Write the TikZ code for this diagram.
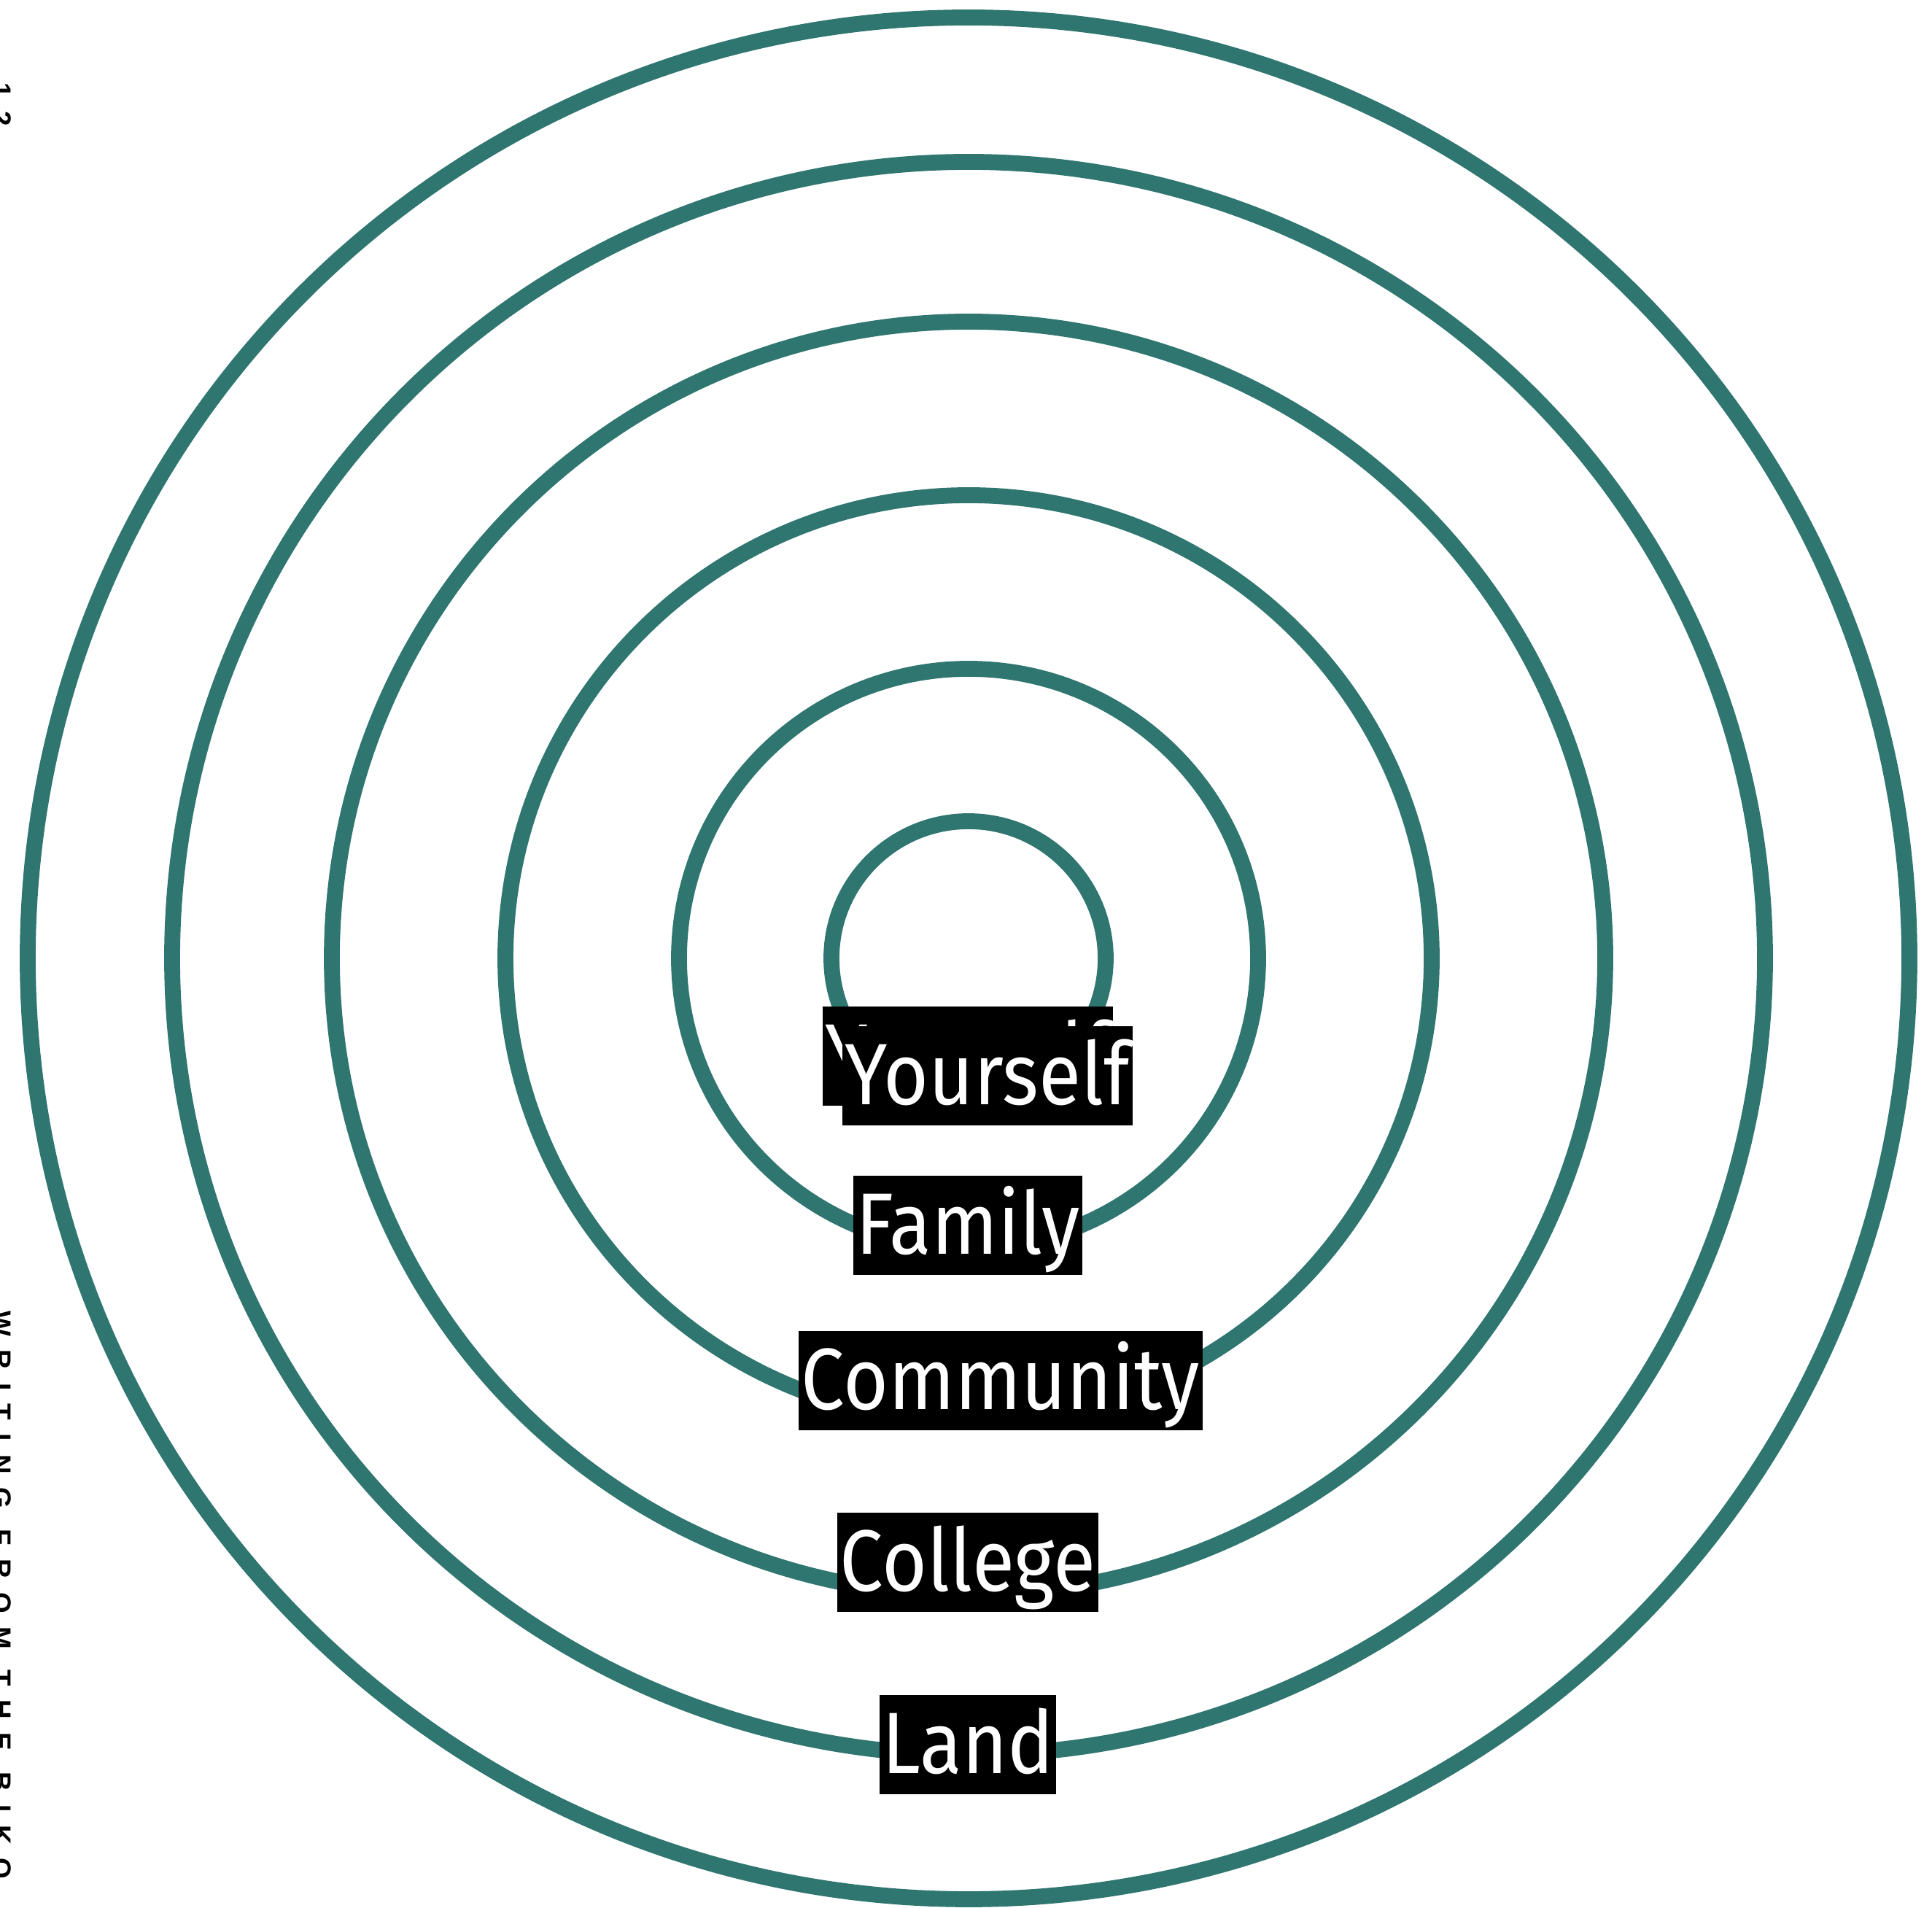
\documentclass[tikz,border=0pt]{standalone}
\usepackage{fontspec}
\setmainfont{Fira Sans}[FakeStretch=0.89]
\newfontfamily\sidefont{Liberation Sans}[UprightFont={* Bold}, LetterSpace=50]
\usetikzlibrary{positioning}
\definecolor{ringteal}{HTML}{2F7570}

\begin{document}
\begin{tikzpicture}[
    ring/.style={draw=ringteal, line width=6.2pt},
    tag/.style={
        fill=black, text=white, anchor=base,
        inner xsep=1pt, inner ysep=0pt,
        text height=30.7pt, text depth=8pt,
        font=\fontsize{34}{34}\selectfont
    },
    margintext/.style={
        rotate=-90, anchor=north west, inner sep=0pt,
        font=\sidefont\fontsize{10.5}{10.5}\selectfont
    }
]
\useasboundingbox (0,0) rectangle (26.49,26.16);

% Rings
\coordinate (centre) at (13.28,13.02);
\foreach \r in {12.9,10.92,8.73,6.35,3.97,1.88}
    \draw[ring] (centre) circle[radius=\r cm];

% Ring labels
\node[tag] (yourselfback) at (13.27,11.28) {Yourself};
\node[tag] (yourself) at (13.54,11.01) {Yourself};
\node[tag] (family) at (13.27,8.96) {Family};
\node[tag] (community) at (13.72,6.83) {Community};
\node[tag] (college) at (13.27,4.34) {College};
\node[tag] (land) at (13.27,1.84) {Land};

% Running head in the margin
\node[margintext] (pagenum) at (0.16,25.03) {12};
\node[margintext] (runninghead) at (0.16,8.19) {WRITING FROM THE BIKO};

\end{tikzpicture}
\end{document}
